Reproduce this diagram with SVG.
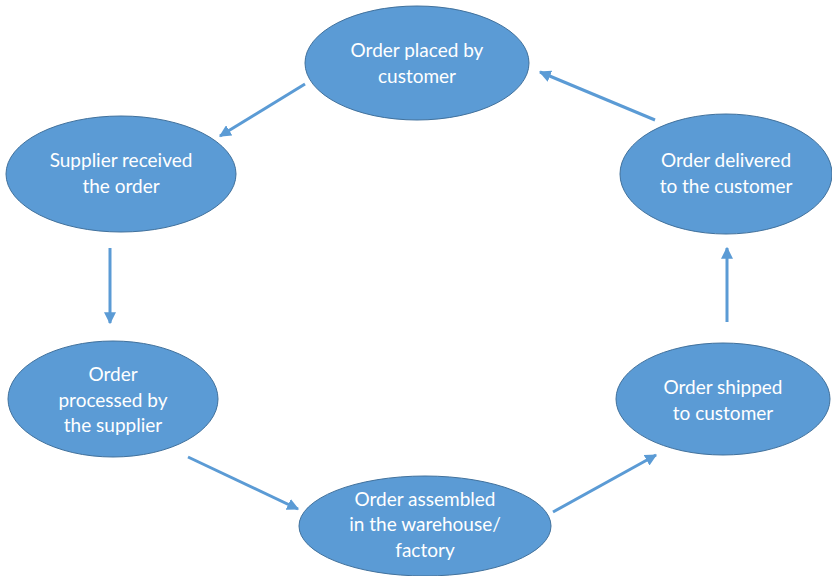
<svg xmlns="http://www.w3.org/2000/svg" width="832" height="576" viewBox="0 0 832 576">
<defs>
<style>
.n ellipse{fill:#5B9BD5;stroke:#41719C;stroke-width:1}
.n text{fill:#fff;font-family:Lato,"Open Sans","Liberation Sans",sans-serif;font-size:19px;text-anchor:middle;dominant-baseline:central}
.c line{stroke:#5B9BD5;stroke-width:3;marker-end:url(#ah)}
</style>
<marker id="ah" viewBox="0 0 10 10" refX="9" refY="5" markerWidth="4" markerHeight="4" orient="auto" markerUnits="strokeWidth">
<path d="M0,0 L10,5 L0,10 z" fill="#5B9BD5"/>
</marker>
</defs>
<rect width="832" height="576" fill="#fff"/>
<g id="n1" class="n"><ellipse cx="417" cy="63" rx="112" ry="57"/><text x="417" y="49">Order placed by</text><text x="417" y="75">customer</text></g>
<g id="n2" class="n"><ellipse cx="121" cy="174" rx="115" ry="58"/><text x="121" y="159">Supplier received</text><text x="121" y="185">the order</text></g>
<g id="n3" class="n"><ellipse cx="113" cy="399" rx="105" ry="58"/><text x="113" y="373">Order</text><text x="113" y="399">processed by</text><text x="113" y="424">the supplier</text></g>
<g id="n4" class="n"><ellipse cx="425" cy="526" rx="126" ry="50"/><text x="425" y="498">Order assembled</text><text x="425" y="523">in the warehouse/</text><text x="425" y="549">factory</text></g>
<g id="n5" class="n"><ellipse cx="723" cy="399" rx="107" ry="56"/><text x="723" y="386">Order shipped</text><text x="723" y="412">to customer</text></g>
<g id="n6" class="n"><ellipse cx="726" cy="174" rx="106" ry="60"/><text x="726" y="159">Order delivered</text><text x="726" y="185">to the customer</text></g>
<g id="connectors" class="c">
<line x1="305" y1="84" x2="220" y2="136"/>
<line x1="110" y1="248" x2="110" y2="323"/>
<line x1="188" y1="457" x2="298" y2="509"/>
<line x1="553" y1="512" x2="656" y2="455"/>
<line x1="727" y1="322" x2="727" y2="248"/>
<line x1="655" y1="120" x2="540" y2="72"/>
</g>
</svg>
